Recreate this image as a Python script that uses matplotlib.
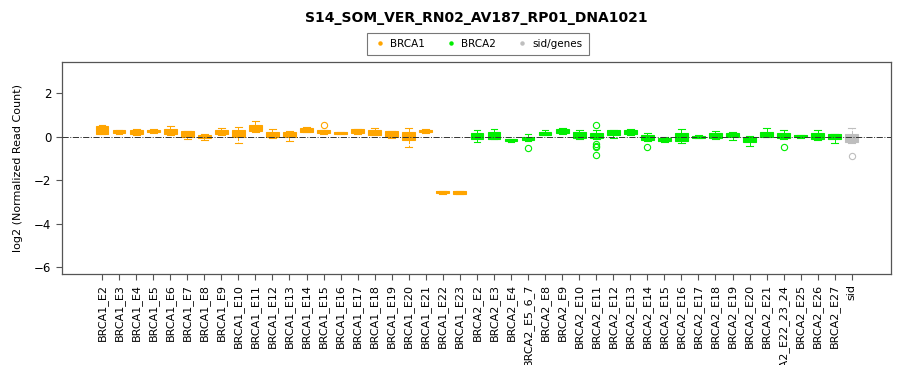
import matplotlib
matplotlib.use("Agg")
import matplotlib.pyplot as plt
from matplotlib.lines import Line2D

title = "S14_SOM_VER_RN02_AV187_RP01_DNA1021"

brca1_names = ["BRCA1_E%d" % i for i in range(2, 24)]
brca2_names = ["BRCA2_E2", "BRCA2_E3", "BRCA2_E4", "BRCA2_E5_6_7", "BRCA2_E8", "BRCA2_E9",
               "BRCA2_E10", "BRCA2_E11", "BRCA2_E12", "BRCA2_E13", "BRCA2_E14", "BRCA2_E15",
               "BRCA2_E16", "BRCA2_E17", "BRCA2_E18", "BRCA2_E19", "BRCA2_E20", "BRCA2_E21",
               "BRCA2_E22_23_24", "BRCA2_E25", "BRCA2_E26", "BRCA2_E27"]
sid_names = ["sid"]
names = brca1_names + brca2_names + sid_names

# box stats: lower whisker, q1, median, q3, upper whisker
whis_lo = [0.10, 0.12, 0.08, 0.18, 0.08, -0.10, -0.15, 0.08, -0.30, 0.22, -0.05,
           -0.20, 0.20, 0.12, 0.10, 0.12, 0.05, -0.08, -0.46, 0.18, -2.62, -2.64,
           -0.26, -0.12, -0.24, -0.22, 0.06, 0.12, -0.10, -0.12, -0.06, 0.08, -0.20,
           -0.26, -0.28, -0.08, -0.12, -0.18, -0.45, -0.02, -0.10, -0.05, -0.14, -0.30,
           -0.28]
q1 = [0.12, 0.15, 0.12, 0.20, 0.12, -0.03, -0.08, 0.12, -0.03, 0.25, -0.03,
      -0.03, 0.23, 0.15, 0.12, 0.15, 0.09, 0.00, -0.18, 0.22, -2.60, -2.62,
      -0.11, -0.09, -0.22, -0.18, 0.09, 0.15, -0.08, -0.08, 0.09, 0.11, -0.18,
      -0.22, -0.22, -0.06, -0.08, -0.03, -0.26, 0.00, -0.06, -0.03, -0.12, -0.12,
      -0.25]
med = [0.30, 0.20, 0.20, 0.26, 0.22, 0.12, 0.00, 0.20, 0.12, 0.40, 0.08,
       0.10, 0.30, 0.22, 0.16, 0.25, 0.20, 0.12, 0.00, 0.26, -2.56, -2.57,
       0.04, 0.06, -0.17, -0.08, 0.16, 0.26, 0.07, 0.05, 0.20, 0.21, -0.06,
       -0.14, -0.03, -0.01, 0.05, 0.08, -0.14, 0.12, 0.05, 0.01, 0.02, -0.01,
       -0.06]
q3 = [0.50, 0.28, 0.28, 0.32, 0.34, 0.25, 0.08, 0.30, 0.28, 0.55, 0.20,
      0.23, 0.38, 0.29, 0.20, 0.35, 0.30, 0.25, 0.20, 0.30, -2.50, -2.52,
      0.18, 0.22, -0.12, 0.00, 0.23, 0.37, 0.22, 0.18, 0.30, 0.31, 0.05,
      -0.06, 0.15, 0.03, 0.17, 0.18, -0.02, 0.23, 0.15, 0.05, 0.15, 0.11,
      0.12]
whis_hi = [0.52, 0.30, 0.35, 0.36, 0.50, 0.27, 0.10, 0.40, 0.46, 0.70, 0.35,
           0.25, 0.43, 0.32, 0.22, 0.37, 0.40, 0.27, 0.38, 0.34, -2.48, -2.50,
           0.28, 0.34, -0.10, 0.12, 0.30, 0.39, 0.32, 0.30, 0.32, 0.33, 0.15,
           0.00, 0.34, 0.05, 0.25, 0.20, 0.04, 0.38, 0.28, 0.07, 0.30, 0.14,
           0.40]
outliers = {"BRCA1_E15": [0.52],
            "BRCA2_E5_6_7": [-0.52],
            "BRCA2_E11": [0.54, -0.32, -0.42, -0.48, -0.85],
            "BRCA2_E14": [-0.50],
            "BRCA2_E22_23_24": [-0.49],
            "sid": [-0.90]}

c_brca1 = "#FFA500"
c_brca2 = "#00EE00"
c_sid = "#BEBEBE"

fig = plt.figure(figsize=(9, 3.65), dpi=100)
ax = fig.add_axes([62 / 900, 1 - 274 / 365, (891 - 62) / 900, (274 - 62) / 365])

for i, name in enumerate(names):
    if name in brca1_names:
        col = c_brca1
    elif name in brca2_names:
        col = c_brca2
    else:
        col = c_sid
    stats = [{"whislo": whis_lo[i], "q1": q1[i], "med": med[i], "q3": q3[i],
              "whishi": whis_hi[i], "fliers": outliers.get(name, [])}]
    ax.bxp(stats, positions=[i + 1], widths=0.75, patch_artist=True,
           boxprops=dict(facecolor=col, edgecolor=col, linewidth=0.8),
           medianprops=dict(color=col, linewidth=1.2),
           whiskerprops=dict(color=col, linewidth=0.7, linestyle="--"),
           capprops=dict(color=col, linewidth=0.8),
           flierprops=dict(marker="o", markerfacecolor="none", markeredgecolor=col,
                           markersize=4.5, markeredgewidth=0.8),
           capwidths=0.4, manage_ticks=False)

ax.axhline(0, color="#333333", linestyle="-.", linewidth=0.7, zorder=5)

ax.set_xlim(-1.35, 47.3)
ax.set_ylim(-6.32, 3.43)
ax.set_yticks([-6, -4, -2, 0, 2])
ax.set_xticks(range(1, len(names) + 1))
ax.set_xticklabels(names, rotation=90, fontsize=8)
ax.tick_params(axis="y", labelsize=8.5, length=4, color="#555555")
ax.tick_params(axis="x", length=4, color="#555555", pad=3)
for s in ax.spines.values():
    s.set_color("#555555")
    s.set_linewidth(0.9)
ax.set_ylabel("log2 (Normalized Read Count)", fontsize=8)
ax.yaxis.set_label_coords(-0.047, 0.5)

fig.text(476 / 900, 1 - 18 / 365, title, fontsize=10, fontweight="bold",
         ha="center", va="center")

handles = [Line2D([], [], linestyle="none", marker="o", markersize=2.2, color=c) for c in
           (c_brca1, c_brca2, c_sid)]
leg = fig.legend(handles, ["BRCA1", "BRCA2", "sid/genes"], loc="center",
                 bbox_to_anchor=(478 / 900, 1 - 44 / 365), ncol=3, fontsize=7.5,
                 frameon=True, fancybox=False, edgecolor="#555555",
                 handletextpad=0.4, columnspacing=1.9, handlelength=1.2,
                 borderpad=0.6)
leg.get_frame().set_linewidth(0.8)

fig.savefig("out.png", dpi=100)
